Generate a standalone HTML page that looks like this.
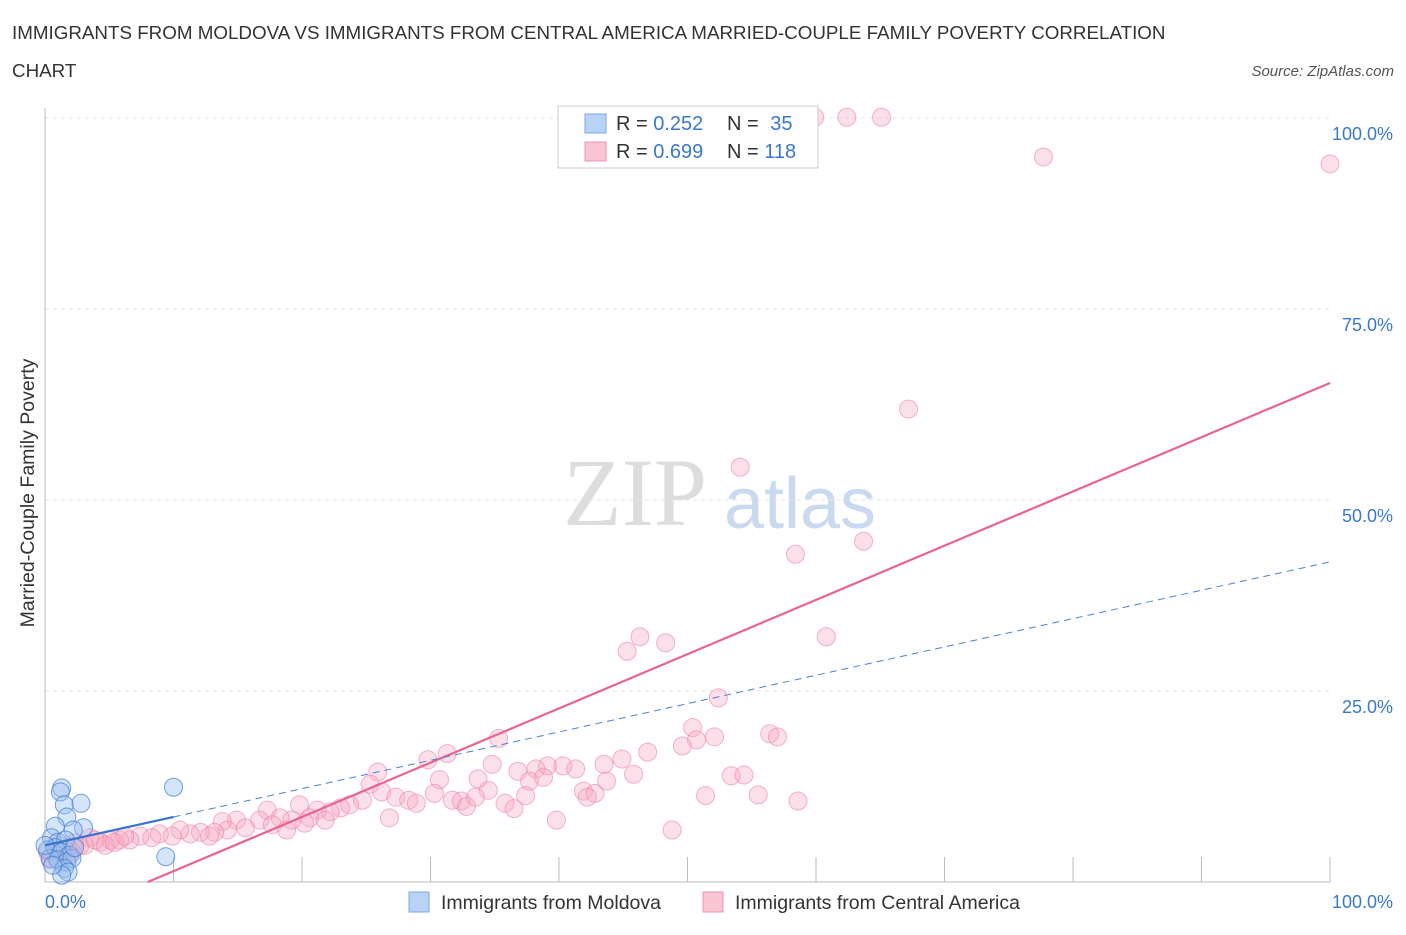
<!DOCTYPE html>
<html><head><meta charset="utf-8"><style>
body{margin:0;background:#fff;font-family:"Liberation Sans",sans-serif;}
</style></head><body>
<svg id="chart" width="1406" height="930" xmlns="http://www.w3.org/2000/svg">
<text x="12" y="39" font-size="18.8" fill="#333">IMMIGRANTS FROM MOLDOVA VS IMMIGRANTS FROM CENTRAL AMERICA MARRIED-COUPLE FAMILY POVERTY CORRELATION</text>
<text x="12" y="77" font-size="18.8" fill="#333">CHART</text>
<text x="1394" y="76" font-size="15" fill="#555" font-style="italic" text-anchor="end">Source: ZipAtlas.com</text>
<text x="635" y="525" font-size="96" fill="#ddd" font-family="Liberation Serif,serif" text-anchor="middle">ZIP</text>
<text x="800" y="528" font-size="72" fill="#c9d9ef" text-anchor="middle">atlas</text>
<text transform="translate(34,493) rotate(-90)" font-size="19.5" fill="#333" text-anchor="middle">Married-Couple Family Poverty</text>
<g id="grid"></g><g id="pts"></g><g id="lines"></g>
<g>
<rect x="558" y="106" width="260" height="62" fill="#fff" stroke="#ccc"/>
<rect x="585" y="114" width="21" height="19" fill="#b8d3f5" stroke="#7aaae6"/>
<rect x="585" y="142" width="21" height="19" fill="#f9c4d3" stroke="#ee93ae"/>
<text x="616" y="130" font-size="20" fill="#333">R = <tspan fill="#3a78d0">0.252</tspan></text>
<text x="727" y="130" font-size="20" fill="#333">N = <tspan fill="#3a78d0" dx="6">35</tspan></text>
<text x="616" y="158" font-size="20" fill="#333">R = <tspan fill="#3a78d0">0.699</tspan></text>
<text x="727" y="158" font-size="20" fill="#333">N = <tspan fill="#3a78d0">118</tspan></text>
</g>
<g>
<rect x="409" y="892" width="20" height="20" fill="#b8d3f5" stroke="#7aaae6"/>
<text x="441" y="909" font-size="19.5" fill="#333">Immigrants from Moldova</text>
<rect x="703" y="892" width="20" height="20" fill="#f9c4d3" stroke="#ee93ae"/>
<text x="735" y="909" font-size="19.5" fill="#333">Immigrants from Central America</text>
</g>
</svg>
<script>
const yTicks=[25,50,75,100];
const xTickLabels=["0.0%","100.0%"];
const blueX=[1.3,1.2,1.5,2.8,10.0,1.7,3.0,0.8,2.2,0.5,1.0,1.6,0.2,0.8,1.3,1.9,0.4,1.0,1.7,2.1,1.5,1.8,1.3,9.4,0,2.3,0.6];
const blueY=[12.3,11.8,10.1,10.3,12.4,8.5,7.1,7.3,6.8,5.8,5.2,5.5,4.2,4.5,3.9,3.5,3.1,2.9,2.6,3.1,1.8,1.3,0.9,3.3,4.8,4.5,2.2];
const pinkX=[59.9,62.4,65.1,77.7,100,67.2,54.1,58.4,63.7,46.3,45.3,48.3,60.8,52.4,50.4,50.7,52.1,49.6,56.4,57.0,46.9,35.3,31.3,29.8,34.8,43.5,44.9,40.3,39.1,41.3,38.2,36.8,25.9,45.8,53.4,54.4,25.3,30.7,33.7,37.7,38.8,43.7,41.9,42.8,42.2,34.5,26.2,30.3,24.7,27.3,28.3,28.9,31.7,32.4,32.8,33.5,35.8,36.5,37.4,51.4,55.5,58.6,39.8,26.8,48.8,19.8,17.3,23.0,23.7,22.2,21.2,20.6,21.8,20.2,19.2,18.3,16.7,17.7,18.8,14.9,13.8,15.6,14.2,13.2,12.1,11.3,10.5,9.9,12.8,8.9,8.3,7.4,6.6,5.8,5.1,4.3,3.5,3.1,2.3,1.8,1.2,0.8,0.4,1.6,2.1,2.7,3.9,4.7,5.4,6.2,1.0,0.2,1.3];
const pinkY=[100.1,100.1,100.1,94.9,94.0,61.9,54.3,42.9,44.6,32.1,30.2,31.3,32.1,24.1,20.2,18.6,19.0,17.8,19.4,19.0,17.0,18.8,16.8,16.0,15.4,15.4,16.1,15.2,15.2,14.8,14.8,14.5,14.4,14.1,13.9,14.0,12.8,13.4,13.5,13.2,13.7,13.2,11.9,11.6,11.1,12.0,11.8,11.6,10.7,11.1,10.7,10.3,10.7,10.6,9.9,11.1,10.3,9.6,11.3,11.3,11.4,10.6,8.1,8.4,6.8,10.1,9.4,9.7,10.1,9.2,9.4,8.4,8.1,7.7,8.1,8.4,8.1,7.5,6.8,8.1,7.9,7.1,6.8,6.5,6.5,6.3,6.8,6.0,6.0,6.3,5.8,6.0,5.5,5.5,5.5,5.2,5.8,4.8,5.1,4.5,4.2,3.4,2.9,3.5,3.9,4.7,5.5,4.8,5.2,6.0,4.8,3.9,2.6];
const blueFit=[4.8,0.371];
const pinkFit=[-5.68,0.71];
const X0=45,X1=1330,Y0=882,Y1=118;
const sx=v=>X0+(X1-X0)*v/100, sy=v=>Y0-(Y0-Y1)*v/100;
const NS="http://www.w3.org/2000/svg";
function mk(parent,tag,attrs){const e=document.createElementNS(NS,tag);for(const k in attrs)e.setAttribute(k,attrs[k]);document.getElementById(parent).appendChild(e);return e;}
for(const t of yTicks){
 const l=mk('grid','line',{x1:X0,x2:X1,y1:sy(t),y2:sy(t),stroke:'#e3e3e3','stroke-dasharray':'4,4'});
 
 
 const tx=mk('grid','text',{x:1393,y:sy(t)+22,'font-size':18,fill:'#3a78d0','text-anchor':'end'});
 tx.textContent=t.toFixed(1)+'%';
 
 
}
const ax=mk('grid','line',{x1:X0,x2:X1,y1:Y0,y2:Y0,stroke:'#bbb'});


const ay=mk('grid','line',{x1:X0,x2:X0,y1:Y1-10,y2:Y0,stroke:'#bbb'});


for(let i=1;i<=10;i++){
 const tk=mk('grid','line',{x1:sx(i*10),x2:sx(i*10),y1:Y0-25,y2:Y0,stroke:'#bbb'});
 
 
}
const xl0=mk('grid','text',{x:45,y:908,'font-size':18,fill:'#3a78d0'});xl0.textContent=xTickLabels[0];


const xl1=mk('grid','text',{x:1393,y:908,'font-size':18,fill:'#3a78d0','text-anchor':'end'});xl1.textContent=xTickLabels[1];


pinkX.forEach((x,i)=>{const c=mk('pts','circle',{cx:sx(x),cy:sy(pinkY[i]),r:9,fill:'rgba(246,165,192,0.35)',stroke:'rgba(236,130,165,0.6)','stroke-width':1});
 
 });
blueX.forEach((x,i)=>{const c=mk('pts','circle',{cx:sx(x),cy:sy(blueY[i]),r:9,fill:'rgba(150,190,240,0.4)',stroke:'rgba(60,120,210,0.7)','stroke-width':1});
 
 });
const px0=-pinkFit[0]/pinkFit[1];
const pl=mk('lines','line',{x1:sx(px0),y1:sy(0),x2:sx(100),y2:sy(pinkFit[0]+pinkFit[1]*100),stroke:'#e8648f','stroke-width':2.2});


const bl=mk('lines','line',{x1:sx(0),y1:sy(blueFit[0]),x2:sx(10),y2:sy(blueFit[0]+blueFit[1]*10),stroke:'#3a72d0','stroke-width':2.2});


const bd=mk('lines','line',{x1:sx(10),y1:sy(blueFit[0]+blueFit[1]*10),x2:sx(100),y2:sy(blueFit[0]+blueFit[1]*100),stroke:'#4a82d6','stroke-width':1,'stroke-dasharray':'7,5'});


</script>
</body></html>
